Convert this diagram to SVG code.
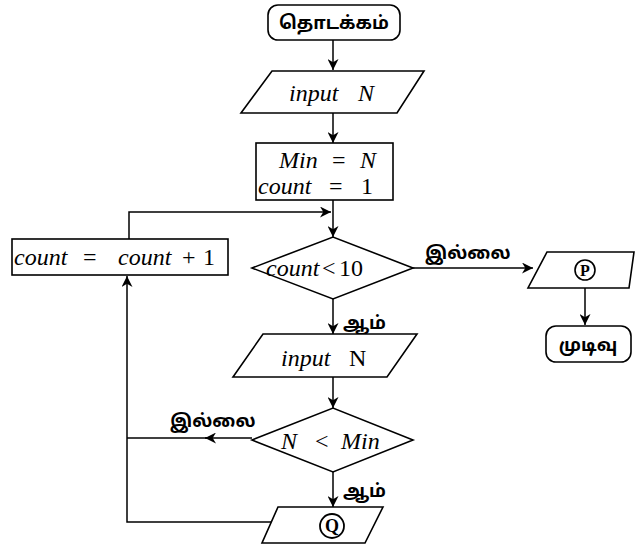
<svg xmlns="http://www.w3.org/2000/svg" width="636" height="550" viewBox="0 0 636 550">
<defs>
<marker id="ah" viewBox="0 0 10 10" refX="10" refY="5" markerWidth="11" markerHeight="11" markerUnits="userSpaceOnUse" orient="auto">
<path d="M0,0 L10,5 L0,10 L3,5 Z" fill="#000"/>
</marker>
<style>
.s{fill:#fff;stroke:#000;stroke-width:1.6}
.c{fill:none;stroke:#000;stroke-width:1.5}
.m{font-family:"Liberation Serif",serif;font-size:24px;fill:#000}
.i{font-style:italic}
.t{font-family:"Noto Sans Tamil","Lohit Tamil","Noto Sans",sans-serif;font-size:18px;fill:#000;font-weight:bold}
</style>
</defs>
<rect width="636" height="550" fill="#fff"/>
<g id="connectors">
<line class="c" x1="333" y1="40" x2="333" y2="70" marker-end="url(#ah)"/>
<line class="c" x1="333" y1="113" x2="333" y2="143" marker-end="url(#ah)"/>
<line class="c" x1="333" y1="200" x2="333" y2="237" marker-end="url(#ah)"/>
<polyline class="c" points="129,239 129,212 331,212" marker-end="url(#ah)"/>
<line class="c" x1="413" y1="268" x2="533" y2="268" marker-end="url(#ah)"/>
<line class="c" x1="585" y1="288" x2="585" y2="325" marker-end="url(#ah)"/>
<line class="c" x1="333" y1="299" x2="333" y2="334" marker-end="url(#ah)"/>
<line class="c" x1="333" y1="377" x2="333" y2="408" marker-end="url(#ah)"/>
<line class="c" x1="252" y1="438" x2="205" y2="438" marker-end="url(#ah)"/>
<line class="c" x1="210" y1="438" x2="127" y2="438"/>
<polyline class="c" points="273,522 127,522 127,276" marker-end="url(#ah)"/>
<line class="c" x1="333" y1="472" x2="333" y2="507" marker-end="url(#ah)"/>
<text class="t" x="425" y="259">இல்லை</text>
<text class="t" x="343" y="329">ஆம்</text>
<text class="t" x="170" y="427">இல்லை</text>
<text class="t" x="343" y="497">ஆம்</text>
</g>
<g id="start">
<rect class="s" x="268" y="5" width="132" height="35" rx="10"/>
<text class="t" x="334" y="29" text-anchor="middle" font-size="20">தொடக்கம்</text>
</g>
<g id="input1">
<polygon class="s" points="272,71 424,71 397,113 241,113"/>
<text class="m i" y="101" font-size="23"><tspan x="289">input</tspan><tspan x="358">N</tspan></text>
</g>
<g id="init">
<rect class="s" x="256" y="143" width="137" height="57"/>
<text class="m" y="168" font-size="25"><tspan class="i" x="279">Min</tspan><tspan x="332">=</tspan><tspan class="i" x="360">N</tspan></text>
<text class="m" y="194" font-size="25"><tspan class="i" x="258">count</tspan><tspan x="329">=</tspan><tspan x="361">1</tspan></text>
</g>
<g id="increment">
<rect class="s" x="12" y="239" width="216" height="36"/>
<text class="m" y="265" font-size="26"><tspan class="i" x="14">count</tspan><tspan x="83">=</tspan><tspan class="i" x="118">count</tspan><tspan x="182">+</tspan><tspan x="203">1</tspan></text>
</g>
<g id="cond1">
<polygon class="s" points="252,268 333,237 413,268 333,299"/>
<text class="m" y="276" font-size="26"><tspan class="i" x="266">count</tspan><tspan x="322">&lt;</tspan><tspan x="339">10</tspan></text>
</g>
<g id="outP">
<polygon class="s" points="547,252 634,252 629,288 528,288"/>
<circle cx="585" cy="270" r="10" fill="none" stroke="#000" stroke-width="1.6"/>
<text x="585" y="276" text-anchor="middle" font-family="Liberation Serif,serif" font-weight="bold" font-size="16">P</text>
</g>
<g id="end">
<rect class="s" x="546" y="326" width="85" height="36" rx="10"/>
<text class="t" x="588" y="351" text-anchor="middle" font-size="20">முடிவு</text>
</g>
<g id="input2">
<polygon class="s" points="263,334 417,334 387,377 233,377"/>
<text class="m" y="366" font-size="24"><tspan class="i" x="281">input</tspan><tspan x="349">N</tspan></text>
</g>
<g id="cond2">
<polygon class="s" points="252,440 333,408 413,440 333,472"/>
<text class="m" y="449" font-size="26"><tspan class="i" x="281">N</tspan><tspan x="315">&lt;</tspan><tspan class="i" x="341">Min</tspan></text>
</g>
<g id="outQ">
<polygon class="s" points="278,507 383,507 365,543 262,543"/>
<circle cx="332" cy="526" r="12" fill="none" stroke="#000" stroke-width="1.8"/>
<text x="332" y="532" text-anchor="middle" font-family="Liberation Serif,serif" font-weight="bold" font-size="18">Q</text>
</g>
</svg>
